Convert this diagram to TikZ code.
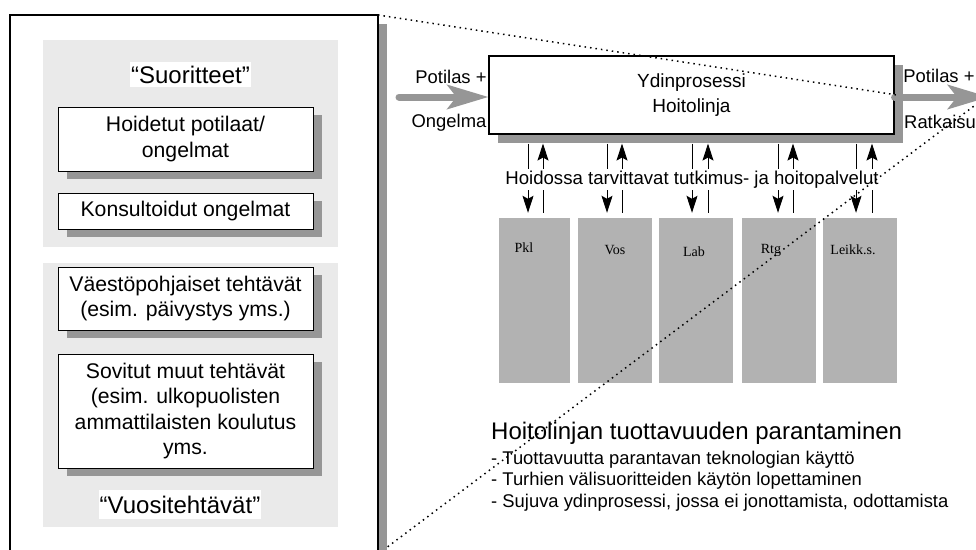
\documentclass[tikz,border=0pt]{standalone}
\usepackage{fontspec}
\setmainfont{Liberation Sans}
\newfontfamily\colfont{Liberation Serif}
\usetikzlibrary{arrows.meta,shadows}

\definecolor{panelgray}{HTML}{EAEAEA}
\definecolor{shadowgray}{HTML}{969696}
\definecolor{colgray}{HTML}{B2B2B2}

\begin{document}
\begin{tikzpicture}[x=1pt,y=-1pt,
  panel/.style={fill=panelgray, draw=none, inner sep=0pt},
  card/.style={draw=black, line width=1pt, fill=white, inner sep=0pt, align=center,
    font=\fontsize{21.2pt}{25.5pt}\selectfont,
    drop shadow={shadow xshift=9pt, shadow yshift=-8pt, fill=shadowgray, opacity=1}},
  tag/.style={fill=white, inner xsep=1pt, inner ysep=0pt, font=\fontsize{24pt}{28pt}\selectfont},
  core/.style={draw=black, line width=1.1pt, fill=white, inner sep=0pt, align=center,
    font=\fontsize{19pt}{25pt}\selectfont,
    drop shadow={shadow xshift=9pt, shadow yshift=-9pt, fill=shadowgray, opacity=1}},
  flowtext/.style={font=\fontsize{18.4pt}{22pt}\selectfont, inner sep=0pt},
  bigarrow/.style={draw=shadowgray, line width=7pt, line cap=round,
    -{Stealth[length=41pt, width=24pt, inset=9pt, fill=shadowgray]}},
  thinarrow/.style={draw=black, line width=1pt,
    -{Stealth[length=17pt, width=11pt, inset=3pt]}},
  plainline/.style={draw=black, line width=1pt},
  service/.style={fill=colgray, draw=none, inner sep=0pt, minimum height=165pt},
  servicelabel/.style={font=\colfont\fontsize{14pt}{16pt}\selectfont, inner sep=0pt},
  zoomline/.style={draw=black, line width=1.5pt, dash pattern=on 1.5pt off 4pt},
  ]
\useasboundingbox (0,0) rectangle (976,549);
\clip (0,0) rectangle (976,549);

% ---------- left frame ----------
\fill[shadowgray] (378,24) rectangle (387,560);
\draw[line width=1.4pt, fill=white] (10,15) rectangle (378,570);
\coordinate (frameNE) at (378,15);
\coordinate (frameLow) at (386,548);

\node[panel, minimum width=295pt, minimum height=207pt] (panelA) at (190.5,143.5) {};
\node[panel, minimum width=295pt, minimum height=264pt] (panelB) at (190.5,395) {};

\node[tag, minimum height=25pt] (suor) at (190.5,74.5) {“Suoritteet”};
\node[card, minimum width=255pt, minimum height=64pt] (hoid) at (185.5,139)
  {Hoidetut potilaat/\\ongelmat};
\node[card, minimum width=255pt, minimum height=36pt] (kons) at (185.5,211)
  {Konsultoidut ongelmat};
\node[card, minimum width=255pt, minimum height=63pt] (vaesto) at (185.5,298.5)
  {Väestöpohjaiset tehtävät\\(esim. päivystys yms.)};
\node[card, minimum width=255pt, minimum height=114pt] (sovitut) at (185.5,411)
  {Sovitut muut tehtävät\\(esim. ulkopuolisten\\ammattilaisten koulutus\\yms.};
\node[tag, minimum height=29pt] (vuosi) at (180,504.5) {“Vuositehtävät”};

% ---------- core process ----------
\node[core, minimum width=405pt, minimum height=78pt] (core) at (691.5,95)
  {Ydinprosessi\\Hoitolinja};

\coordinate (inL) at (399,97);
\coordinate (outR) at (989,97);
\draw[bigarrow] (inL) -- (inL -| core.west);
\draw[bigarrow] (core.east |- outR) -- (outR);

\node[flowtext] (inTop) at (451,77) {Potilas +};
\node[flowtext] (inBot) at (449,123) {Ongelma};
\node[flowtext] (outTop) at (939,76) {Potilas +};
\node[flowtext] (outBot) at (940,122) {Ratkaisu};

% ---------- service units ----------
\node[service, minimum width=71pt] (col1) at (534.5,300.5) {};
\node[service, minimum width=74pt] (col2) at (615,300.5) {};
\node[service, minimum width=74pt] (col3) at (696,300.5) {};
\node[service, minimum width=74pt] (col4) at (779,300.5) {};
\node[service, minimum width=74pt] (col5) at (860,300.5) {};

\node[servicelabel] (l1) at (524,248) {Pkl};
\node[servicelabel] (l2) at (615,250) {Vos};
\node[servicelabel] (l3) at (694,252) {Lab};
\node[servicelabel] (l4) at (771,250) {Rtg};
\node[servicelabel] (l5) at (853,250) {Leikk.s.};

% requests down, results up
\foreach \i/\xd/\xu in {1/528/543, 2/607/622, 3/692/708, 4/778/793, 5/856/872} {
  \coordinate (dn\i) at (\xd,0);
  \coordinate (up\i) at (\xu,0);
  \draw[thinarrow, shorten <=9pt, shorten >=5pt] (core.south -| dn\i) -- (col\i.north -| dn\i);
  \draw[thinarrow, shorten <=5pt, shorten >=9pt] (col\i.north -| up\i) -- (core.south -| up\i);
}

\node[flowtext, fill=white, inner xsep=1pt, inner ysep=2pt, font=\fontsize{18.6pt}{22pt}\selectfont]
  (services) at (692,179.5) {Hoidossa tarvittavat tutkimus- ja hoitopalvelut};

% ---------- productivity notes ----------
\node[anchor=base west, inner sep=0pt, font=\fontsize{24pt}{28pt}\selectfont] (goal) at (491,439)
  {Hoitolinjan tuottavuuden parantaminen};
\node[anchor=base west, flowtext] (b1) at (491,464) {- Tuottavuutta parantavan teknologian käyttö};
\node[anchor=base west, flowtext] (b2) at (491,485) {- Turhien välisuoritteiden käytön lopettaminen};
\node[anchor=base west, flowtext] (b3) at (491,507) {- Sujuva ydinprosessi, jossa ei jonottamista, odottamista};

% ---------- zoom guide lines ----------
\coordinate (zoomTop) at (897,95);
\coordinate (zoomRight) at (978,103);
\draw[zoomline] (frameNE) -- (zoomTop);
\draw[zoomline] (zoomRight) -- (frameLow);
\end{tikzpicture}
\end{document}
